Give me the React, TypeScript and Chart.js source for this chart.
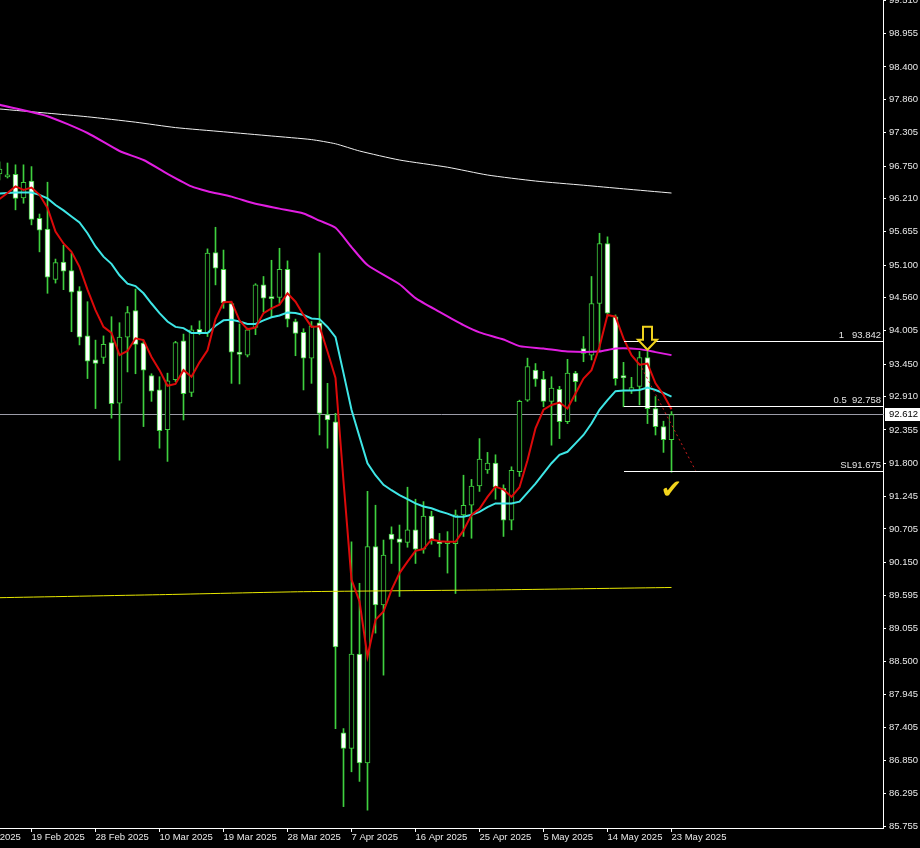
import React, { useEffect, useRef } from 'react';
import { Chart, registerables } from 'chart.js';

Chart.register(...registerables);

// ---- Candles (daily, bar index 0..84) ----
const open = [
  96.62, 96.57, 96.61, 96.22, 96.50, 95.88, 95.70, 94.86, 95.15, 95.01,
  94.67, 93.92, 93.52, 93.56, 93.81, 92.80, 93.90, 94.34, 93.80, 93.26,
  93.02, 92.36, 93.19, 93.84, 92.98, 94.03, 93.97, 95.31, 95.03, 94.46,
  93.65, 93.60, 94.06, 94.77, 94.56, 94.56, 95.03, 94.16, 93.98, 93.55,
  94.14, 92.61, 92.49, 87.31, 87.05, 88.62, 86.81, 90.41, 89.44, 90.62,
  90.54, 90.48, 90.69, 90.37, 90.92, 90.47, 90.46, 90.46, 90.94, 91.10,
  91.42, 91.69, 91.80, 91.38, 90.85, 91.66, 92.85, 93.35, 93.20, 92.83,
  93.03, 92.49, 93.30, 93.71, 93.60, 94.46, 95.46, 94.24, 93.26, 93.01,
  93.08, 93.56, 92.71, 92.41, 92.19,
];
const high = [
  96.82, 96.80, 96.77, 96.77, 96.74, 95.95, 96.48, 95.20, 95.43, 95.30,
  94.74, 94.49, 93.85, 93.92, 94.24, 94.14, 94.41, 94.70, 93.84, 93.29,
  93.24, 93.30, 93.83, 93.95, 94.09, 94.17, 95.37, 95.73, 95.35, 94.47,
  94.12, 94.05, 94.79, 94.91, 95.18, 95.38, 95.17, 94.20, 94.04, 94.16,
  95.30, 93.13, 92.63, 87.38, 90.49, 89.80, 91.33, 91.10, 90.52, 90.74,
  90.77, 91.40, 91.20, 91.16, 91.00, 90.63, 90.66, 91.02, 91.60, 91.53,
  92.21, 91.98, 91.94, 91.44, 91.74, 92.85, 93.55, 93.46, 93.33, 93.24,
  93.08, 93.53, 93.33, 93.91, 94.91, 95.63, 95.57, 94.27, 93.48, 93.23,
  93.66, 93.66, 92.91, 92.50, 92.66,
];
const low = [
  96.52, 96.55, 96.02, 96.13, 95.77, 95.32, 94.63, 94.80, 94.69, 93.99,
  93.77, 93.21, 92.71, 93.46, 92.55, 91.85, 93.32, 93.29, 92.41, 92.83,
  92.05, 91.83, 93.16, 92.52, 92.91, 93.94, 93.91, 94.77, 94.38, 93.13,
  93.12, 93.57, 93.94, 94.32, 94.24, 94.46, 94.07, 93.59, 93.02, 93.13,
  92.27, 92.05, 87.38, 86.08, 86.66, 86.50, 86.02, 88.97, 88.27, 90.13,
  89.58, 90.40, 90.13, 90.30, 90.45, 90.24, 89.97, 89.63, 90.58, 90.55,
  91.33, 91.63, 91.20, 90.58, 90.69, 91.58, 92.83, 93.08, 92.74, 92.10,
  92.21, 92.46, 92.83, 93.49, 93.52, 93.66, 94.24, 93.10, 92.74, 92.96,
  92.77, 92.46, 92.27, 91.98, 91.65,
];
const close = [
  96.70, 96.60, 96.21, 96.48, 95.86, 95.68, 94.90, 95.14, 95.00, 94.65,
  93.90, 93.50, 93.46, 93.78, 92.79, 93.90, 94.31, 93.78, 93.35, 93.00,
  92.34, 93.17, 93.81, 92.96, 94.02, 93.97, 95.30, 95.05, 94.47, 93.65,
  93.61, 94.02, 94.77, 94.55, 94.54, 95.03, 94.20, 93.96, 93.55, 94.09,
  92.63, 92.52, 88.74, 87.05, 88.62, 86.81, 90.41, 89.44, 90.27, 90.53,
  90.48, 90.69, 90.37, 90.92, 90.53, 90.46, 90.47, 90.94, 91.10, 91.42,
  91.87, 91.80, 91.40, 90.85, 91.68, 92.83, 93.41, 93.20, 92.83, 93.05,
  92.49, 93.30, 93.16, 93.63, 94.46, 95.46, 94.30, 93.21, 93.22, 93.06,
  93.56, 92.71, 92.41, 92.19, 92.61,
];

// ---- Moving averages ----
const redMA = [
  96.20, 96.30, 96.41, 96.35, 96.39, 96.27, 96.05, 95.66, 95.46, 95.32,
  95.07, 94.69, 94.35, 94.07, 93.97, 93.60, 93.67, 93.88, 93.85, 93.57,
  93.35, 93.09, 93.12, 93.35, 93.24, 93.48, 93.68, 94.20, 94.48, 94.49,
  94.18, 94.03, 94.06, 94.30, 94.38, 94.44, 94.63, 94.49, 94.27, 94.07,
  94.08, 93.66, 93.22, 91.50, 89.86, 89.50, 88.58, 89.19, 89.33, 89.69,
  89.97, 90.16, 90.34, 90.37, 90.53, 90.50, 90.49, 90.49, 90.68, 90.94,
  91.04, 91.24, 91.41, 91.36, 91.24, 91.40, 91.85, 92.38, 92.69, 92.77,
  92.81, 92.71, 92.96, 93.21, 93.35, 93.74, 94.27, 94.24, 93.88, 93.60,
  93.44, 93.46, 93.13, 92.94, 92.70,
];
const cyanMA = [
  96.29, 96.30, 96.31, 96.31, 96.31, 96.27, 96.21, 96.10, 96.01, 95.91,
  95.81, 95.63, 95.41, 95.24, 95.12, 94.93, 94.79, 94.75, 94.63, 94.46,
  94.30, 94.16, 94.07, 94.05, 93.97, 93.97, 93.97, 94.09, 94.18, 94.19,
  94.16, 94.12, 94.12, 94.18, 94.23, 94.26, 94.31, 94.30, 94.27, 94.21,
  94.20, 94.07, 93.90, 93.30, 92.69, 92.24, 91.80, 91.60, 91.44, 91.35,
  91.27, 91.20, 91.13, 91.08, 91.05, 91.00, 90.96, 90.91, 90.91, 90.94,
  90.99, 91.07, 91.13, 91.13, 91.13, 91.16, 91.31, 91.46, 91.63, 91.80,
  91.94, 91.99, 92.13, 92.27, 92.46, 92.69, 92.85, 93.00, 93.01, 93.01,
  93.02, 93.06, 93.02, 92.97, 92.91,
];
const magentaBars = [0, 6, 11, 15, 18, 21, 24, 26, 29, 32, 35, 38, 40, 42, 44, 46, 50, 52, 55, 58, 60, 63, 65, 68, 71, 75, 77, 80, 82, 84];
const magentaMA = [97.77, 97.58, 97.30, 97.00, 96.85, 96.62, 96.41, 96.33, 96.24, 96.12, 96.04, 95.96, 95.84, 95.72, 95.40, 95.10, 94.78, 94.55, 94.32, 94.10, 93.98, 93.86, 93.75, 93.71, 93.66, 93.66, 93.71, 93.70, 93.65, 93.60];
const whiteBars = [0, 6, 11, 17, 22, 28, 34, 39, 42, 45, 50, 56, 61, 67, 73, 78, 84];
const whiteMA = [97.70, 97.63, 97.57, 97.48, 97.39, 97.32, 97.25, 97.19, 97.12, 97.00, 96.85, 96.73, 96.60, 96.50, 96.43, 96.37, 96.30];
const yellowBars = [0, 20, 38, 62, 84];
const yellowMA = [89.56, 89.61, 89.66, 89.69, 89.73];

// ---- Drawn objects ----
const trendBars = [80, 87];
const trendPrices = [93.46, 91.68];
const levelPrices = [93.842, 92.758, 91.675];
const levelTexts = ['1   93.842', '0.5  92.758', 'SL91.675'];
const levelStartBar = 78;
const bidPrice = 92.612;
const arrowBar = 81;
const arrowTipPrice = 93.69;
const checkBar = 84;
const checkPrice = 91.34;

// ---- Axes ----
const dateLabels = ['10 Feb 2025', '19 Feb 2025', '28 Feb 2025', '10 Mar 2025', '19 Mar 2025', '28 Mar 2025', '7 Apr 2025', '16 Apr 2025', '25 Apr 2025', '5 May 2025', '14 May 2025', '23 May 2025'];
const dateBars = [-4, 4, 12, 20, 28, 36, 44, 52, 60, 68, 76, 84];
const priceTicks = [85.755, 86.295, 86.850, 87.405, 87.945, 88.500, 89.055, 89.595, 90.150, 90.705, 91.245, 91.800, 92.355, 92.910, 93.450, 94.005, 94.560, 95.100, 95.655, 96.210, 96.750, 97.305, 97.860, 98.400, 98.955, 99.510];
const X_MIN = 0.0625;
const X_MAX = 110.4375;
const Y_MIN = 85.724;
const Y_MAX = 99.515;

const GREEN = '#3fd03f';
const FONT = 'Liberation Sans';

export default function App() {
  const ref = useRef<HTMLCanvasElement | null>(null);

  useEffect(() => {
    document.body.style.margin = '0';
    document.body.style.background = '#000';
    const canvas = ref.current;
    if (!canvas) return;

    const idx = open.map((_, i) => i);
    const wickData = idx.map((i) => ({ x: i, y: [low[i], high[i]] }));
    const bodyData = idx.map((i) => ({ x: i, y: [open[i], close[i]] }));
    const bodyFill = idx.map((i) => (close[i] >= open[i] ? '#000000' : '#ffffff'));
    const pts = (xs: number[], ys: number[]) => xs.map((x, k) => ({ x, y: ys[k] }));

    const overlay = {
      id: 'overlay',
      beforeDatasetsDraw(chart: any) {
        const { ctx, chartArea, scales } = chart;
        const y = scales.y;
        ctx.save();
        const by = Math.round(y.getPixelForValue(bidPrice)) + 0.5;
        ctx.strokeStyle = '#9c9ca8';
        ctx.lineWidth = 1;
        ctx.beginPath();
        ctx.moveTo(chartArea.left, by);
        ctx.lineTo(chartArea.right, by);
        ctx.stroke();
        ctx.restore();
      },
      afterDatasetsDraw(chart: any) {
        const { ctx, chartArea, scales } = chart;
        const x = scales.x;
        const y = scales.y;
        ctx.save();
        ctx.font = `9.5px "${FONT}"`;
        ctx.textAlign = 'right';
        ctx.textBaseline = 'bottom';
        levelPrices.forEach((p, k) => {
          const ly = Math.round(y.getPixelForValue(p)) + 0.5;
          ctx.strokeStyle = '#ffffff';
          ctx.lineWidth = 1;
          ctx.beginPath();
          ctx.moveTo(Math.round(x.getPixelForValue(levelStartBar)), ly);
          ctx.lineTo(chartArea.right, ly);
          ctx.stroke();
          ctx.fillStyle = '#e4e4e4';
          ctx.fillText(levelTexts[k], chartArea.right - 2, ly - 1);
        });

        // hollow down arrow
        const ax = x.getPixelForValue(arrowBar);
        const ay = y.getPixelForValue(arrowTipPrice);
        ctx.beginPath();
        ctx.moveTo(ax - 4.5, ay - 23);
        ctx.lineTo(ax + 4.5, ay - 23);
        ctx.lineTo(ax + 4.5, ay - 10);
        ctx.lineTo(ax + 9.5, ay - 10);
        ctx.lineTo(ax, ay);
        ctx.lineTo(ax - 9.5, ay - 10);
        ctx.lineTo(ax - 4.5, ay - 10);
        ctx.closePath();
        ctx.fillStyle = '#000000';
        ctx.fill();
        ctx.strokeStyle = '#f0d21e';
        ctx.lineWidth = 2;
        ctx.lineJoin = 'miter';
        ctx.stroke();

        // check mark
        ctx.fillStyle = '#f2d41c';
        ctx.font = '26px "DejaVu Sans"';
        ctx.textAlign = 'center';
        ctx.textBaseline = 'middle';
        ctx.fillText('\u2714', x.getPixelForValue(checkBar), y.getPixelForValue(checkPrice));
        ctx.restore();
      },
      afterDraw(chart: any) {
        const { ctx, chartArea, scales, width } = chart;
        const y = scales.y;
        const by = Math.round(y.getPixelForValue(bidPrice));
        ctx.save();
        ctx.fillStyle = '#ffffff';
        ctx.fillRect(chartArea.right + 2, by - 6, width - chartArea.right - 2, 13);
        ctx.fillStyle = '#000000';
        ctx.font = `9.5px "${FONT}"`;
        ctx.textAlign = 'left';
        ctx.textBaseline = 'middle';
        ctx.fillText(bidPrice.toFixed(3), chartArea.right + 6, by + 0.5);
        ctx.restore();
      },
    };

    const chart = new Chart(canvas, {
      type: 'bar',
      data: {
        datasets: [
          { type: 'line', data: pts(trendBars, trendPrices), borderColor: '#cc1c1c', borderWidth: 1, borderDash: [2, 3], pointRadius: 0, order: 0 } as any,
          { type: 'line', data: pts(idx, redMA), borderColor: '#dc0a0a', borderWidth: 2, pointRadius: 0, tension: 0, order: 1 } as any,
          { type: 'line', data: pts(idx, cyanMA), borderColor: '#3ee6e6', borderWidth: 2, pointRadius: 0, tension: 0, order: 2 } as any,
          { type: 'line', data: pts(magentaBars, magentaMA), borderColor: '#e11ee1', borderWidth: 2, pointRadius: 0, tension: 0.2, order: 3 } as any,
          { type: 'line', data: pts(whiteBars, whiteMA), borderColor: '#f0f0f0', borderWidth: 1, pointRadius: 0, tension: 0.2, order: 4 } as any,
          { type: 'line', data: pts(yellowBars, yellowMA), borderColor: '#e8e800', borderWidth: 1, pointRadius: 0, tension: 0.2, order: 5 } as any,
          { type: 'bar', data: bodyData, backgroundColor: bodyFill, borderColor: GREEN, borderWidth: 1, borderSkipped: false, barThickness: 5, grouped: false, minBarLength: 2, order: 10 } as any,
          { type: 'bar', data: wickData, backgroundColor: GREEN, borderWidth: 0, barThickness: 1, grouped: false, order: 11 } as any,
        ],
      },
      options: {
        responsive: false,
        animation: false,
        devicePixelRatio: 1,
        events: [],
        layout: { padding: 0 },
        plugins: { legend: { display: false }, tooltip: { enabled: false }, title: { display: false } },
        scales: {
          x: {
            type: 'linear',
            position: 'bottom',
            offset: false,
            min: X_MIN,
            max: X_MAX,
            afterBuildTicks: (s: any) => { s.ticks = dateBars.map((v) => ({ value: v })); },
            afterFit: (s: any) => { s.height = 20; s.paddingLeft = 0; s.paddingRight = 0; },
            ticks: {
              autoSkip: false, maxRotation: 0, minRotation: 0, align: 'start', padding: 0,
              color: '#e8e8e8', font: { family: FONT, size: 9.5 },
              callback: (_v: any, i: number) => dateLabels[i],
            },
            grid: { display: true, offset: false, drawOnChartArea: false, drawTicks: true, tickLength: 4, color: '#ffffff' },
            border: { display: true, color: '#ffffff', width: 1 },
          },
          y: {
            type: 'linear',
            position: 'right',
            offset: false,
            min: Y_MIN,
            max: Y_MAX,
            afterBuildTicks: (s: any) => { s.ticks = priceTicks.map((v) => ({ value: v })); },
            afterFit: (s: any) => { s.width = 37; s.paddingTop = 0; s.paddingBottom = 0; },
            ticks: {
              autoSkip: false, padding: 3,
              color: '#e8e8e8', font: { family: FONT, size: 9.5 },
              callback: (v: any) => Number(v).toFixed(3),
            },
            grid: { display: true, drawOnChartArea: false, drawTicks: true, tickLength: 3, color: '#ffffff' },
            border: { display: true, color: '#ffffff', width: 1 },
          },
        },
      } as any,
      plugins: [overlay],
    });

    return () => chart.destroy();
  }, []);

  return <canvas ref={ref} width={920} height={848} style={{ display: 'block', background: '#000' }} />;
}
